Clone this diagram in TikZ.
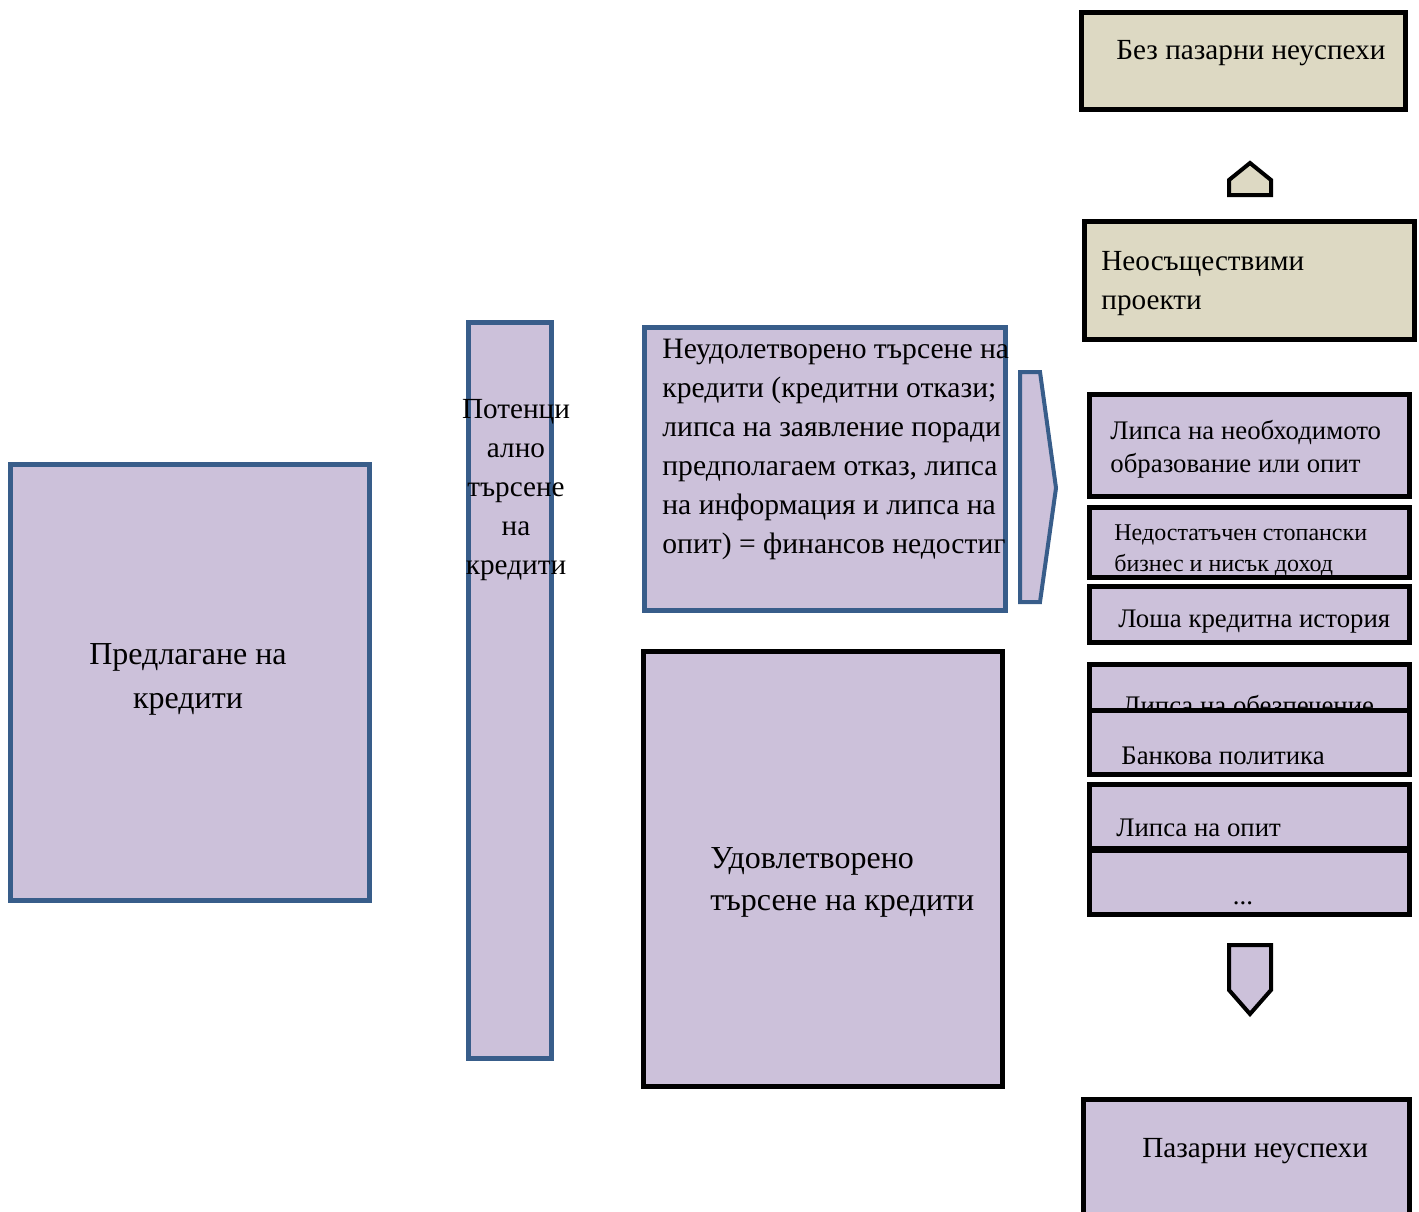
\documentclass[tikz,border=0pt]{standalone}
\usepackage{fontspec}
\setmainfont{Liberation Serif}
\definecolor{lav}{RGB}{204,193,218}
\definecolor{beige}{RGB}{221,217,195}
\definecolor{steel}{RGB}{56,93,138}
\tikzset{
  panel/.style={draw=steel, fill=lav, line width=2.5pt, inner sep=0pt},
  blackpanel/.style={draw=black, fill=lav, line width=2.5pt, inner sep=0pt},
  sandpanel/.style={draw=black, fill=beige, line width=2.5pt, inner sep=0pt},
  lbl/.style={inner sep=0pt, align=left},
  shaft/.style={line width=2pt, line join=miter},
}
\newcommand{\fsz}[2]{\fontsize{#1}{#2}\selectfont}

\begin{document}
\begin{tikzpicture}[x=0.5pt,y=-0.5pt]
\useasboundingbox (0,0) rectangle (1419,1211);
% left part
\node[panel, minimum width=179.5pt, minimum height=218pt] (supply) at (189.5,682.5) {};
\node[lbl, align=center, font=\fsz{16}{22}] (supplytxt) at (188,679) {Предлагане на\\кредити};
\node[panel, minimum width=41.5pt, minimum height=368pt] (potential) at (510,690.5) {};
\node[lbl, align=center, font=\fsz{14.6}{19.5}] (potentialtxt) at (516,490) {Потенци\\ално\\търсене\\на\\кредити};
% middle part
\node[panel, minimum width=180.5pt, minimum height=141.5pt] (unmet) at (825,469) {};
\node[lbl, anchor=west, font=\fsz{14.8}{19.5}] (unmettxt) at (662,449.5) {Неудолетворено търсене на\\кредити (кредитни откази;\\липса на заявление поради\\предполагаем отказ, липса\\на информация и липса на\\опит) = финансов недостиг};
\draw[shaft, draw=steel, fill=lav] (1020,372) -- (1040,372) -- (1056,488) -- (1040,602) -- (1020,602) -- cycle;
\node[blackpanel, minimum width=179.5pt, minimum height=217.5pt] (met) at (823,869) {};
\node[lbl, anchor=west, font=\fsz{16}{21}] (mettxt) at (710,882) {Удовлетворено\\търсене на кредити};
% right column
\node[sandpanel, minimum width=162pt, minimum height=48.5pt] (nofail) at (1243.5,61) {};
\node[lbl, anchor=west, font=\fsz{14.6}{19.5}] (nofailtxt) at (1116,53) {Без пазарни неуспехи};
\draw[shaft, fill=beige] (1229,195) -- (1229,180) -- (1250,163) -- (1271,180) -- (1271,195) -- cycle;
\node[sandpanel, minimum width=165pt, minimum height=59pt] (infeasible) at (1249.5,280.5) {};
\node[lbl, anchor=west, font=\fsz{14.6}{19.5}] (infeasibletxt) at (1101,283.5) {Неосъществими\\проекти};
\node[blackpanel, minimum width=160pt, minimum height=51pt] (edu) at (1249.5,445.5) {};
\node[lbl, anchor=west, font=\fsz{13.4}{16.5}] (edutxt) at (1110,449) {Липса на необходимото\\образование или опит};
\node[blackpanel, minimum width=160pt, minimum height=35pt] (biz) at (1249.5,542.5) {};
\node[lbl, anchor=west, font=\fsz{12}{15.5}] (biztxt) at (1114,550.5) {Недостатъчен стопански\\бизнес и нисък доход};
\node[blackpanel, minimum width=160pt, minimum height=28pt] (hist) at (1249.5,614.5) {};
\node[lbl, anchor=west, font=\fsz{13.4}{16}] (histtxt) at (1118,621.5) {Лоша кредитна история};
\node[blackpanel, minimum width=160pt, minimum height=30pt] (collat) at (1249.5,694) {};
\node[lbl, anchor=west, font=\fsz{13.4}{16}] (collattxt) at (1122,705) {Липса на обезпечение};
\node[blackpanel, minimum width=160pt, minimum height=32pt] (bank) at (1249.5,742.5) {};
\node[lbl, anchor=west, font=\fsz{13.4}{16}] (banktxt) at (1121,756) {Банкова политика};
\node[blackpanel, minimum width=160pt, minimum height=32pt] (exp) at (1249.5,816.5) {};
\node[lbl, anchor=west, font=\fsz{13.4}{16}] (exptxt) at (1116,828) {Липса на опит};
\node[blackpanel, minimum width=160pt, minimum height=32pt] (more) at (1249.5,882.5) {};
\node[lbl, font=\fsz{13.4}{16}] (moretxt) at (1243,903) {...};
\draw[shaft, fill=lav] (1229,945) -- (1271,945) -- (1271,990) -- (1250,1014) -- (1229,990) -- cycle;
\node[blackpanel, minimum width=163pt, minimum height=70.25pt] (fail) at (1246.5,1169.75) {};
\node[lbl, anchor=west, font=\fsz{14.6}{19.5}] (failtxt) at (1142,1151) {Пазарни неуспехи};
\end{tikzpicture}
\end{document}
